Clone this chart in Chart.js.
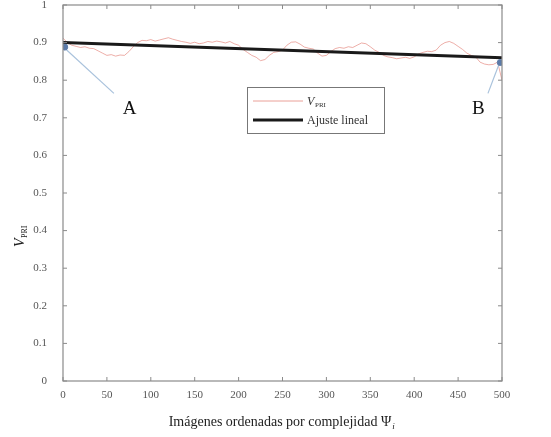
<!DOCTYPE html>
<html><head><meta charset="utf-8">
<script src="https://cdn.jsdelivr.net/npm/chart.js@4/dist/chart.umd.min.js"></script>
<style>html,body{margin:0;padding:0;background:#fff}#wrap{width:551px;height:437px}</style>
</head><body><div id="wrap"><canvas id="c" width="551" height="437"></canvas></div>
<script>
const imageIndex = [0,5,10,15,20,25,30,35,40,45,50,55,60,65,70,75,80,85,90,95,100,105,110,115,120,125,130,135,140,145,150,155,160,165,170,175,180,185,190,195,200,205,210,215,220,225,230,235,240,245,250,255,260,265,270,275,280,285,290,295,300,305,310,315,320,325,330,335,340,345,350,355,360,365,370,375,380,385,390,395,400,405,410,415,420,425,430,435,440,445,450,455,460,465,470,475,480,485,490,495,500];
const vpriValues = [0.912,0.900,0.893,0.890,0.887,0.889,0.885,0.884,0.878,0.872,0.866,0.868,0.864,0.867,0.866,0.876,0.889,0.900,0.906,0.905,0.908,0.904,0.907,0.910,0.913,0.909,0.906,0.903,0.901,0.898,0.901,0.897,0.899,0.903,0.901,0.904,0.902,0.899,0.903,0.897,0.893,0.882,0.874,0.866,0.861,0.852,0.855,0.866,0.874,0.876,0.880,0.893,0.901,0.902,0.896,0.888,0.885,0.883,0.872,0.864,0.866,0.876,0.884,0.887,0.885,0.889,0.887,0.893,0.899,0.897,0.889,0.880,0.874,0.866,0.862,0.860,0.857,0.859,0.861,0.858,0.862,0.870,0.874,0.877,0.876,0.880,0.893,0.900,0.903,0.898,0.890,0.882,0.872,0.866,0.862,0.848,0.843,0.841,0.842,0.848,0.800];
const fitX = [0, 500];
const fitY = [0.900, 0.860];
const markerX = [2, 498];
const markerY = [0.888, 0.847];
const leaderA = [[2,0.885],[58,0.765]];
const leaderB = [[497,0.845],[484,0.765]];
const pointLabels = ['A','B'];
const labelX = [76, 473];
const labelY = [0.724, 0.724];
const xTicks = [0,50,100,150,200,250,300,350,400,450,500];
const yTicks = [0,0.1,0.2,0.3,0.4,0.5,0.6,0.7,0.8,0.9,1];
const legendLabels = ['V','Ajuste lineal'];

const SERIF = '"Liberation Serif", "DejaVu Serif", serif';
const TXT = '#555';

const deco = {
  id: 'deco',
  afterDraw(chart) {
    const {ctx, chartArea: a, scales: {x, y}} = chart;
    ctx.save();
    ctx.strokeStyle = '#8a8a8a'; ctx.lineWidth = 1.2;
    ctx.strokeRect(a.left, a.top, a.right - a.left, a.bottom - a.top);
    ctx.lineWidth = 1;
    xTicks.forEach(v => {
      const px = x.getPixelForValue(v);
      ctx.beginPath(); ctx.moveTo(px, a.bottom); ctx.lineTo(px, a.bottom - 4);
      ctx.moveTo(px, a.top); ctx.lineTo(px, a.top + 4); ctx.stroke();
    });
    yTicks.forEach(v => {
      const py = y.getPixelForValue(v);
      ctx.beginPath(); ctx.moveTo(a.left, py); ctx.lineTo(a.left + 4, py);
      ctx.moveTo(a.right, py); ctx.lineTo(a.right - 4, py); ctx.stroke();
    });
    ctx.fillStyle = '#111'; ctx.font = '19px ' + SERIF;
    ctx.textAlign = 'center'; ctx.textBaseline = 'middle';
    pointLabels.forEach((t, i) => ctx.fillText(t, x.getPixelForValue(labelX[i]), y.getPixelForValue(labelY[i])));
    const lx = 247, ly = 87, lw = 137, lh = 46;
    ctx.fillStyle = '#fff'; ctx.fillRect(lx, ly, lw, lh);
    ctx.strokeStyle = '#777'; ctx.lineWidth = 1; ctx.strokeRect(lx + 0.5, ly + 0.5, lw, lh);
    ctx.strokeStyle = 'rgba(225,120,110,0.7)'; ctx.lineWidth = 1;
    ctx.beginPath(); ctx.moveTo(lx + 6, ly + 14); ctx.lineTo(lx + 56, ly + 14); ctx.stroke();
    ctx.strokeStyle = '#1a1a1a'; ctx.lineWidth = 3;
    ctx.beginPath(); ctx.moveTo(lx + 6, ly + 33); ctx.lineTo(lx + 56, ly + 33); ctx.stroke();
    ctx.fillStyle = '#333'; ctx.textAlign = 'left'; ctx.textBaseline = 'alphabetic';
    ctx.font = 'italic 12px ' + SERIF; ctx.fillText(legendLabels[0], lx + 60, ly + 18);
    ctx.font = '7px ' + SERIF; ctx.fillText('PRI', lx + 68, ly + 20);
    ctx.font = '12px ' + SERIF; ctx.fillText(legendLabels[1], lx + 60, ly + 37);
    ctx.fillStyle = '#222'; ctx.font = '14px ' + SERIF; ctx.textAlign = 'left';
    const t1 = 'Imágenes ordenadas por complejidad Ψ';
    const w1 = ctx.measureText(t1).width;
    const tx = 282 - (w1 + 4) / 2;
    ctx.fillText(t1, tx, 426);
    ctx.font = 'italic 9px ' + SERIF; ctx.fillText('i', tx + w1 + 1, 429);
    ctx.translate(24, 236); ctx.rotate(-Math.PI / 2);
    ctx.font = 'italic 14px ' + SERIF; ctx.fillStyle = '#222'; ctx.textAlign = 'left';
    ctx.fillText('V', -11, 0);
    ctx.font = '8px ' + SERIF; ctx.fillText('PRI', -2, 3);
    ctx.restore();
  }
};

new Chart(document.getElementById('c'), {
  type: 'scatter',
  data: {
    datasets: [
      { data: imageIndex.map((v, i) => ({x: v, y: vpriValues[i]})), showLine: true, borderColor: 'rgba(225,120,110,0.6)', borderWidth: 1, pointRadius: 0, order: 3 },
      { data: leaderA.map(p => ({x: p[0], y: p[1]})), showLine: true, borderColor: '#a9c2dc', borderWidth: 1.2, pointRadius: 0, order: 2 },
      { data: leaderB.map(p => ({x: p[0], y: p[1]})), showLine: true, borderColor: '#a9c2dc', borderWidth: 1.2, pointRadius: 0, order: 2 },
      { data: fitX.map((v, i) => ({x: v, y: fitY[i]})), showLine: true, borderColor: '#1a1a1a', borderWidth: 3, pointRadius: 0, order: 1 },
      { data: markerX.map((v, i) => ({x: v, y: markerY[i]})), showLine: false, backgroundColor: '#5b7aa8', borderColor: '#5b7aa8', pointRadius: 3, order: 0 }
    ]
  },
  options: {
    responsive: false, animation: false,
    layout: { padding: { top: 5, right: 49, left: 0, bottom: 0 } },
    plugins: { legend: { display: false }, tooltip: { enabled: false } },
    scales: {
      x: { type: 'linear', min: 0, max: 500,
        afterBuildTicks: s => { s.ticks = xTicks.map(v => ({value: v})); },
        afterFit: s => { s.height = 56; s.paddingLeft = 0; s.paddingRight = 0; },
        grid: { display: false, drawTicks: false }, border: { display: false },
        ticks: { color: TXT, font: { family: SERIF, size: 11 }, padding: 8, maxRotation: 0, callback: v => String(v) } },
      y: { type: 'linear', min: 0, max: 1,
        afterBuildTicks: s => { s.ticks = yTicks.map(v => ({value: v})); },
        afterFit: s => { s.width = 63; s.paddingTop = 0; s.paddingBottom = 0; },
        grid: { display: false, drawTicks: false }, border: { display: false },
        ticks: { color: TXT, font: { family: SERIF, size: 11 }, padding: 16, callback: v => String(v) } }
    }
  },
  plugins: [deco]
});
</script></body></html>
